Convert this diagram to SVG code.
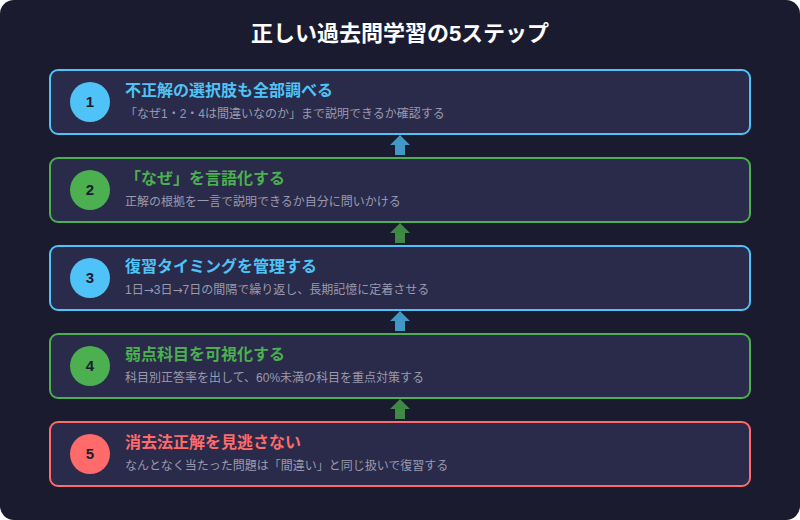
<svg xmlns="http://www.w3.org/2000/svg" width="800" height="520" viewBox="0 0 800 520">
<style>
.bg{fill:#1b1b2f}
.box{fill:#2a2a4a;stroke-width:2}
.b{stroke:#4fc3f7}.g{stroke:#4caf50}.r{stroke:#ff6b6b}
.cb{fill:#4fc3f7}.cg{fill:#4caf50}.cr{fill:#ff6b6b}
text{font-family:"Liberation Sans","Noto Sans CJK JP",sans-serif}
.num{font-size:15px;font-weight:bold;fill:#1b1b2f;text-anchor:middle}
.h{font-size:16px;font-weight:bold}
.s{font-size:12px;fill:#9a9aae}
.ar{font-family:"DejaVu Sans",sans-serif}
.title{font-size:22px;font-weight:bold;fill:#ffffff;text-anchor:middle}
.ab{fill:#4fc3f7;opacity:0.75}.ag{fill:#4caf50;opacity:0.75}
</style>
<defs>
<path id="arr" d="M0,-10 L10,0 L5,0 L5,10 L-5,10 L-5,0 L-10,0 Z"/>
</defs>
<rect class="bg" x="0" y="0" width="800" height="520" rx="14"/>
<text class="title" x="400" y="41">正しい過去問学習の5ステップ</text>
<g id="connectors">
<use href="#arr" class="ab" x="400" y="145"/>
<use href="#arr" class="ag" x="400" y="233"/>
<use href="#arr" class="ab" x="400" y="321"/>
<use href="#arr" class="ag" x="400" y="409"/>
</g>
<g id="step1">
<rect class="box b" x="50" y="70" width="700" height="64" rx="8"/>
<circle class="cb" cx="90" cy="102" r="20"/>
<text class="num" x="90" y="107">1</text>
<text class="h" x="125" y="96" fill="#4fc3f7">不正解の選択肢も全部調べる</text>
<text class="s" x="125" y="118">「なぜ1・2・4は間違いなのか」まで説明できるか確認する</text>
</g>
<g id="step2">
<rect class="box g" x="50" y="158" width="700" height="64" rx="8"/>
<circle class="cg" cx="90" cy="190" r="20"/>
<text class="num" x="90" y="195">2</text>
<text class="h" x="125" y="184" fill="#4caf50">「なぜ」を言語化する</text>
<text class="s" x="125" y="206">正解の根拠を一言で説明できるか自分に問いかける</text>
</g>
<g id="step3">
<rect class="box b" x="50" y="246" width="700" height="64" rx="8"/>
<circle class="cb" cx="90" cy="278" r="20"/>
<text class="num" x="90" y="283">3</text>
<text class="h" x="125" y="272" fill="#4fc3f7">復習タイミングを管理する</text>
<text class="s" x="125" y="294">1日<tspan class="ar">→</tspan>3日<tspan class="ar">→</tspan>7日の間隔で繰り返し、長期記憶に定着させる</text>
</g>
<g id="step4">
<rect class="box g" x="50" y="334" width="700" height="64" rx="8"/>
<circle class="cg" cx="90" cy="366" r="20"/>
<text class="num" x="90" y="371">4</text>
<text class="h" x="125" y="360" fill="#4caf50">弱点科目を可視化する</text>
<text class="s" x="125" y="382">科目別正答率を出して、60%未満の科目を重点対策する</text>
</g>
<g id="step5">
<rect class="box r" x="50" y="422" width="700" height="64" rx="8"/>
<circle class="cr" cx="90" cy="454" r="20"/>
<text class="num" x="90" y="459">5</text>
<text class="h" x="125" y="448" fill="#ff6b6b">消去法正解を見逃さない</text>
<text class="s" x="125" y="470">なんとなく当たった問題は「間違い」と同じ扱いで復習する</text>
</g>
</svg>
